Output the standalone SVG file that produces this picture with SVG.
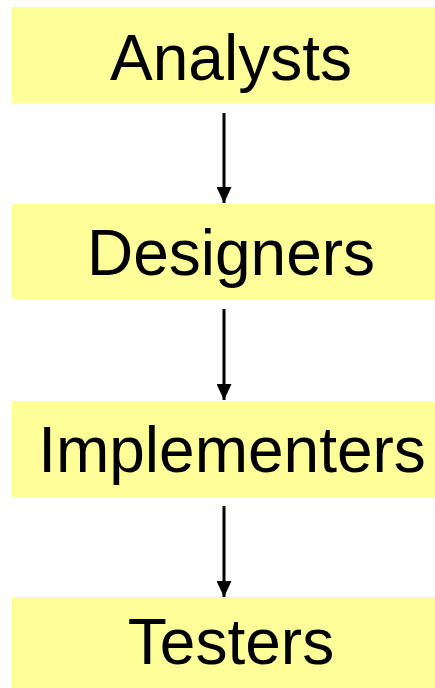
<svg xmlns="http://www.w3.org/2000/svg" width="435" height="688" viewBox="0 0 435 688">
  <style>
    .box { fill: #ffff99; }
    .label { font-family: "Liberation Sans", Arial, sans-serif; font-size: 64px; fill: #000; text-anchor: middle; }
    .edge { stroke: #000; stroke-width: 3; fill: none; marker-end: url(#arrow); }
  </style>
  <defs>
    <marker id="arrow" viewBox="0 0 16 15" refX="16" refY="7.5" markerWidth="16" markerHeight="15" markerUnits="userSpaceOnUse" orient="auto">
      <path d="M0,0 L16,7.5 L0,15 Z" fill="#000"/>
    </marker>
  </defs>
  <rect width="435" height="688" fill="#fff"/>

  <g id="analysts">
    <rect class="box" x="12" y="7" width="440" height="96"/>
    <text class="label" x="231" y="80">Analysts</text>
  </g>
  <g id="designers">
    <rect class="box" x="12" y="204" width="440" height="95"/>
    <text class="label" x="231" y="275">Designers</text>
  </g>
  <g id="implementers">
    <rect class="box" x="12" y="401" width="440" height="96"/>
    <text class="label" x="232" y="472">Implementers</text>
  </g>
  <g id="testers">
    <rect class="box" x="12" y="597" width="440" height="95"/>
    <text class="label" x="231" y="664">Testers</text>
  </g>

  <g id="connectors">
    <line class="edge" x1="224" y1="113" x2="224" y2="203"/>
    <line class="edge" x1="224" y1="309" x2="224" y2="400"/>
    <line class="edge" x1="224" y1="506" x2="224" y2="597"/>
  </g>
</svg>
